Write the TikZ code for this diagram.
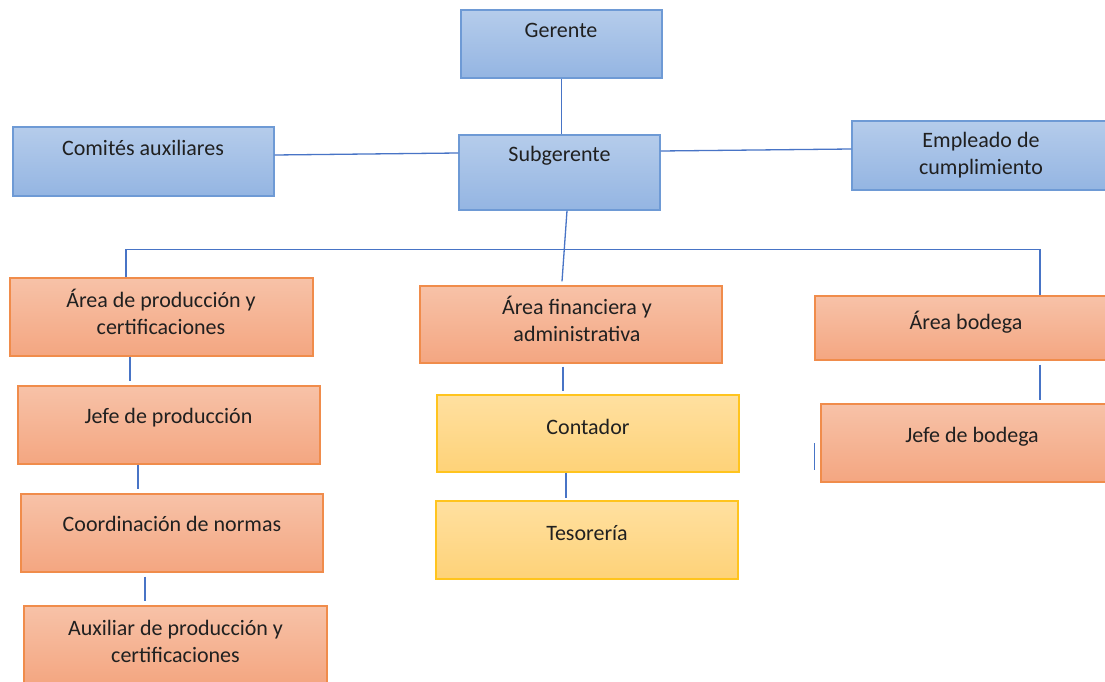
\documentclass[tikz,border=0pt]{standalone}
\usepackage{fontspec}
\setmainfont{Carlito}
\usepackage{xcolor}
\usepackage{tikz}
\usetikzlibrary{positioning, calc}
\definecolor{mandotop}{RGB}{181,204,235}
\definecolor{mandobot}{RGB}{148,181,226}
\definecolor{mandoline}{RGB}{110,154,213}
\definecolor{areatop}{RGB}{247,194,168}
\definecolor{areabot}{RGB}{244,166,129}
\definecolor{arealine}{RGB}{240,140,75}
\definecolor{cajatop}{RGB}{255,224,160}
\definecolor{cajabot}{RGB}{254,210,120}
\definecolor{cajaline}{RGB}{255,196,30}
\definecolor{enlace}{RGB}{72,116,198}
\definecolor{letra}{RGB}{32,32,32}

\begin{document}
\begin{tikzpicture}[x=1pt, y=-1pt,
  box/.style={line width=1.2pt, inner sep=0pt},
  mando/.style={box, draw=mandoline, top color=mandotop, bottom color=mandobot},
  area/.style={box, draw=arealine, top color=areatop, bottom color=areabot},
  caja/.style={box, draw=cajaline, top color=cajatop, bottom color=cajabot},
  txt/.style={align=center, inner sep=0pt, text=letra, font=\fontsize{22}{27}\selectfont},
  link/.style={draw=enlace, line width=1.3pt}]
  \fill[white] (0,0) rectangle (1105,682);
  \clip (0,0) rectangle (1105,682);
  % direccion
  \node[mando, minimum width=201pt, minimum height=68pt] (gerente) at (561.5,44) {};
  \node[mando, minimum width=201pt, minimum height=75pt] (subgerente) at (559.5,172.5) {};
  \node[mando, minimum width=261pt, minimum height=69pt] (comites) at (143.5,161.5) {};
  \node[mando, minimum width=270pt, minimum height=69pt] (empleado) at (987,155.5) {};
  \node[txt] (gerente-t) at (561,30) {Gerente};
  \node[txt] (subgerente-t) at (559.5,156) {Subgerente};
  \node[txt] (comites-t) at (143,148) {Comités auxiliares};
  \node[txt] (empleado-t) at (981,155.5) {Empleado de\\cumplimiento};
  % areas
  \node[area, minimum width=303pt, minimum height=78pt] (produccion) at (161.5,317) {};
  \node[area, minimum width=302pt, minimum height=78pt] (jefeprod) at (169,425) {};
  \node[area, minimum width=302pt, minimum height=78pt] (normas) at (172,533) {};
  \node[area, minimum width=303pt, minimum height=78pt] (auxiliar) at (175.5,645) {};
  \node[area, minimum width=302pt, minimum height=77pt] (financiera) at (571,324.5) {};
  \node[caja, minimum width=302pt, minimum height=77pt] (contador) at (588,433.5) {};
  \node[caja, minimum width=302pt, minimum height=78pt] (tesoreria) at (587,540) {};
  \node[area, minimum width=302pt, minimum height=64pt] (bodega) at (966,328) {};
  \node[area, minimum width=302pt, minimum height=78pt] (jefebodega) at (972,443) {};
  \node[txt] (produccion-t) at (161,311.5) {Área de producción y\\certificaciones};
  \node[txt] (jefeprod-t) at (168.5,418) {Jefe de producción};
  \node[txt] (normas-t) at (172,524) {Coordinación de normas};
  \node[txt] (auxiliar-t) at (175.5,641.5) {Auxiliar de producción y\\certificaciones};
  \node[txt] (financiera-t) at (577,318.5) {Área financiera y\\administrativa};
  \node[txt] (contador-t) at (588,427) {Contador};
  \node[txt] (tesoreria-t) at (587,533) {Tesorería};
  \node[txt] (bodega-t) at (966,322) {Área bodega};
  \node[txt] (jefebodega-t) at (972,437) {Jefe de bodega};
  % enlaces
  \draw[link] (gerente.south) -- (gerente.south |- subgerente.north);
  \draw[link] ([yshift=6.5pt]comites.east) -- ([yshift=19.5pt]subgerente.west);
  \draw[link] ([yshift=21.5pt]subgerente.east) -- ([yshift=6.5pt]empleado.west);
  \draw[link] ([xshift=7.5pt]subgerente.south) -- ([xshift=-9pt,yshift=4pt]financiera.north);
  \draw[link] ([xshift=-35.5pt]produccion.north) -- ++(0,-28) -| ([xshift=74pt]bodega.north);
  \draw[link] ([xshift=-31.5pt]produccion.south) -- ([xshift=-31.5pt,yshift=4pt]produccion.south |- jefeprod.north);
  \draw[link] ([xshift=-31pt]jefeprod.south) -- ([xshift=-31pt,yshift=4pt]jefeprod.south |- normas.north);
  \draw[link] ([xshift=-27pt,yshift=-4pt]normas.south) -- ([xshift=-27pt,yshift=4pt]normas.south |- auxiliar.north);
  \draw[link] ([xshift=-8pt,yshift=-3pt]financiera.south) -- ([xshift=-8pt,yshift=3pt]financiera.south |- contador.north);
  \draw[link] ([xshift=-22pt]contador.south) -- ([xshift=-22pt,yshift=2pt]contador.south |- tesoreria.north);
  \draw[link] ([xshift=74pt,yshift=-4pt]bodega.south) -- ([xshift=74pt,yshift=3pt]bodega.south |- jefebodega.north);
  \draw[link] ([xshift=-6pt]jefebodega.west) -- ++(0,27);
\end{tikzpicture}
\end{document}
